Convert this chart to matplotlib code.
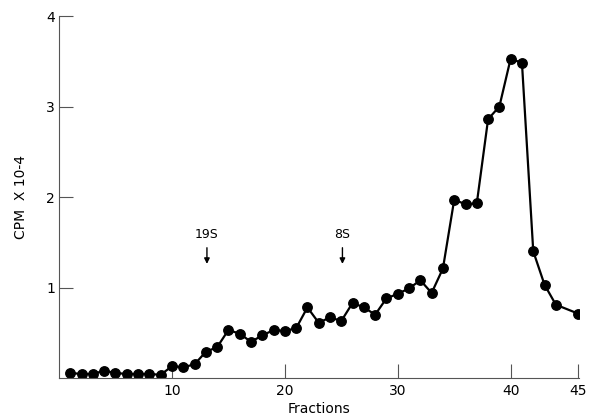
import matplotlib.pyplot as plt

# fraction numbers (the last one sits at the "45" tick, drawn a bit apart in the original)
fractions = list(range(1, 45)) + [46]
cpm = [0.055, 0.045, 0.045, 0.08, 0.055, 0.045, 0.045, 0.045, 0.035, 0.13,
       0.12, 0.15, 0.29, 0.34, 0.53, 0.49, 0.40, 0.47, 0.53, 0.52,
       0.55, 0.78, 0.61, 0.67, 0.63, 0.83, 0.78, 0.70, 0.88, 0.93,
       0.99, 1.08, 0.94, 1.21, 1.97, 1.92, 1.93, 2.86, 3.00, 3.53,
       3.48, 1.40, 1.03, 0.81, 0.71]

tick_pos = [10, 20, 30, 40, 46]
tick_labels = ["10", "20", "30", "40", "45"]

# sedimentation markers: label, fraction
markers = [("19S", 13.1), ("8S", 25.1)]

fig = plt.figure(figsize=(5.89, 4.18), dpi=100)
ax = fig.add_axes([0.1002, 0.0957, 0.8828, 0.866])

ax.plot(fractions, cpm, color="black", lw=1.6, marker="o",
        markersize=6.8, markerfacecolor="black", markeredgecolor="black")

for label, frac in markers:
    ax.annotate("", xy=(frac, 1.23), xytext=(frac, 1.47),
                arrowprops=dict(arrowstyle="-|>", color="black", lw=1,
                                mutation_scale=8))
    ax.text(frac, 1.51, label, ha="center", va="bottom", fontsize=9)

ax.set_xlim(0, 46.05)
ax.set_ylim(0, 4)
ax.set_xticks(tick_pos)
ax.set_xticklabels(tick_labels)
ax.set_yticks([1, 2, 3, 4])
ax.set_yticklabels(["1", "2", "3", "4"])

for side in ["top", "right"]:
    ax.spines[side].set_visible(False)
for side in ["left", "bottom"]:
    ax.spines[side].set_color("#555555")
    ax.spines[side].set_linewidth(0.8)

ax.tick_params(axis="both", direction="in", length=10, width=0.8,
               color="#555555", labelsize=10)
ax.tick_params(axis="y", pad=3)
ax.tick_params(axis="x", pad=4)

ax.set_xlabel("Fractions", fontsize=10, labelpad=3)
ax.set_ylabel("CPM  X 10-4", fontsize=10, labelpad=13)

fig.savefig("out.png", dpi=100)
